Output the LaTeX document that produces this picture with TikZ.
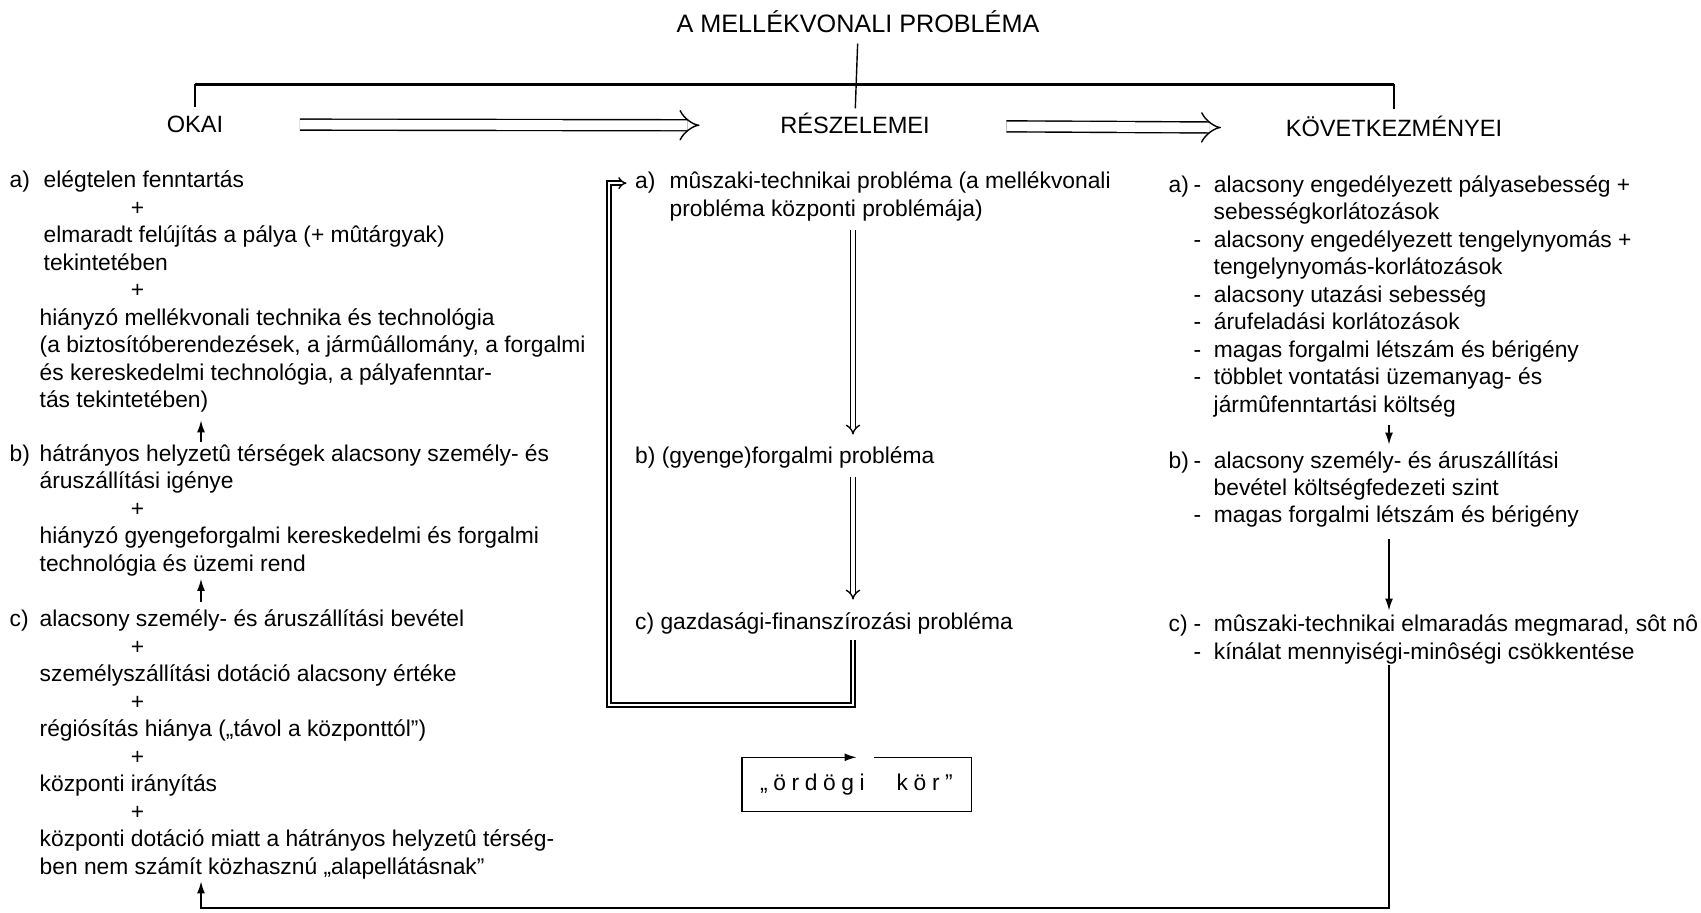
\documentclass[tikz,border=0pt]{standalone}
\usepackage{fontspec}
\setmainfont{Liberation Sans}
\usetikzlibrary{arrows.meta}

\begin{document}
\begin{tikzpicture}[x=0.5pt,y=-0.5pt,>={Latex[length=6pt,width=4pt]},line width=0.7pt,
        txt/.style={anchor=base west,inner sep=0pt,font=\fontsize{11.4}{13.7}\selectfont},
        pls/.style={txt,anchor=base},
        hd/.style={anchor=base,inner sep=0pt,text height=8.5pt,text depth=0pt,font=\fontsize{11.8}{14}\selectfont},
        dbl/.style={double,double distance=#1,-{Implies}},
        bar/.style={line width=1.8pt}]

        \useasboundingbox (0,0) rectangle (1701,913);

        % Define vertices
        \node[hd,font=\fontsize{12.6}{15}\selectfont] (ti) at (858,33) {A MELLÉKVONALI PROBLÉMA};
        \node[hd] (ok) at (195,133) {OKAI};
        \node[hd] (re) at (855,134) {RÉSZELEMEI};
        \node[hd] (kv) at (1394,137) {KÖVETKEZMÉNYEI};

        % left column: okai
        \node[txt] (la) at (9,188) {a)};
        \node[txt] (l1) at (43,188) {elégtelen fenntartás};
        \node[pls] (p1) at (137.5,215.5) {+};
        \node[txt] (l2) at (43,243) {elmaradt felújítás a pálya (+ mûtárgyak)};
        \node[txt] (l3) at (43,270.5) {tekintetében};
        \node[pls] (p2) at (137.5,298) {+};
        \node[txt] (l4) at (39,325.5) {hiányzó mellékvonali technika és technológia};
        \node[txt] (l5) at (39,353) {(a biztosítóberendezések, a jármûállomány, a forgalmi};
        \node[txt] (l6) at (39,380.5) {és kereskedelmi technológia, a pályafenntar-};
        \node[txt] (l7) at (39,408) {tás tekintetében)};
        \node[txt] (lb) at (9,461.5) {b)};
        \node[txt] (l8) at (39,461.5) {hátrányos helyzetû térségek alacsony személy- és};
        \node[txt] (l9) at (39,489) {áruszállítási igénye};
        \node[pls] (p3) at (137.5,516.5) {+};
        \node[txt] (l10) at (39,544) {hiányzó gyengeforgalmi kereskedelmi és forgalmi};
        \node[txt] (l11) at (39,571.5) {technológia és üzemi rend};
        \node[txt] (lc) at (9,626.5) {c)};
        \node[txt] (l12) at (39,626.5) {alacsony személy- és áruszállítási bevétel};
        \node[pls] (p4) at (137.5,654) {+};
        \node[txt] (l13) at (39,681.5) {személyszállítási dotáció alacsony értéke};
        \node[pls] (p5) at (137.5,709) {+};
        \node[txt] (l14) at (39,736.5) {régiósítás hiánya („távol a központtól")};
        \node[pls] (p6) at (137.5,764) {+};
        \node[txt] (l15) at (39,791.5) {központi irányítás};
        \node[pls] (p7) at (137.5,819) {+};
        \node[txt] (l16) at (39,846.5) {központi dotáció miatt a hátrányos helyzetû térség-};
        \node[txt] (l17) at (39,874) {ben nem számít közhasznú „alapellátásnak"};

        % middle column: reszelemei
        \node[txt] (ma) at (634.5,189) {a)};
        \node[txt] (m1) at (669,189) {mûszaki-technikai probléma (a mellékvonali};
        \node[txt] (m2) at (669,216.5) {probléma központi problémája)};
        \node[txt] (mb) at (634.5,464) {b) (gyenge)forgalmi probléma};
        \node[txt] (mc) at (634.5,630) {c) gazdasági-finanszírozási probléma};
        \node[txt,anchor=center,minimum width=114pt,minimum height=26.5pt] (kor) at (856.5,784.5)
            {„\hspace{2.8pt}ö\hspace{2.8pt}r\hspace{2.8pt}d\hspace{2.8pt}ö\hspace{2.8pt}g\hspace{2.8pt}i\hspace{16pt}k\hspace{2.8pt}ö\hspace{2.8pt}r\hspace{2.8pt}”};

        % right column: kovetkezmenyei
        \node[txt] (ra) at (1168,192.5) {a)};
        \node[txt] (r1) at (1193,192.5) {-~~alacsony engedélyezett pályasebesség +};
        \node[txt] (r2) at (1213,220) {sebességkorlátozások};
        \node[txt] (r3) at (1193,247.5) {-~~alacsony engedélyezett tengelynyomás +};
        \node[txt] (r4) at (1213,275) {tengelynyomás-korlátozások};
        \node[txt] (r5) at (1193,302.5) {-~~alacsony utazási sebesség};
        \node[txt] (r6) at (1193,330) {-~~árufeladási korlátozások};
        \node[txt] (r7) at (1193,357.5) {-~~magas forgalmi létszám és bérigény};
        \node[txt] (r8) at (1193,385) {-~~többlet vontatási üzemanyag- és};
        \node[txt] (r9) at (1213,412.5) {jármûfenntartási költség};
        \node[txt] (rb) at (1168,469) {b)};
        \node[txt] (r10) at (1193,469) {-~~alacsony személy- és áruszállítási};
        \node[txt] (r11) at (1213,495.5) {bevétel költségfedezeti szint};
        \node[txt] (r12) at (1193,522.5) {-~~magas forgalmi létszám és bérigény};
        \node[txt] (rc) at (1168,632) {c)};
        \node[txt] (r13) at (1193,632) {-~~mûszaki-technikai elmaradás megmarad, sôt nô};
        \node[txt] (r14) at (1193,660) {-~~kínálat mennyiségi-minôségi csökkentése};

        \coordinate (bar) at (0,84.5);
        \coordinate (mx) at (853,0);
        \coordinate (lx) at (201,0);
        \coordinate (rx) at (1389,0);
        \coordinate (bt) at (0,908);
        \coordinate (lp) at (609,705);

        % Draw edges
        \draw[shorten <=5pt,shorten >=4pt] (ti.south) -- (re.north);
        \draw[bar] (ok.north |- bar) -- (kv.north |- bar);
        \draw[shorten <=4pt] (ok.north) -- (ok.north |- bar);
        \draw[shorten <=5pt] (kv.north) -- (kv.north |- bar);
        \draw[dbl=4.8pt,shorten <=38pt,shorten >=40pt] (ok) -- (re);
        \draw[dbl=4.8pt,shorten <=38pt,shorten >=32pt] (re) -- (kv);

        \draw[dbl=1.8pt,shorten <=4pt,shorten >=6pt] (m2.south -| mx) -- (mb.north -| mx);
        \draw[dbl=1.8pt,shorten <=4pt,shorten >=6.5pt] (mb.south -| mx) -- (mc.north -| mx);
        \draw[dbl=1.3pt,shorten <=2.5pt,shorten >=4pt] (mc.south -| mx) |- (lp) |- (ma.west);
        \draw[->] ([xshift=8.5pt]kor.north) -- (kor.north east) -- (kor.south east)
            -- (kor.south west) -- (kor.north west) -- (kor.north);

        \draw[->,shorten <=1pt,shorten >=3.5pt] (l8.north -| lx) -- (l7.south -| lx);
        \draw[->,shorten <=3.5pt,shorten >=1pt] (l12.north -| lx) -- (l11.south -| lx);
        \draw[->,shorten <=3.5pt,shorten >=3.5pt] (r9.south -| rx) -- (r10.north -| rx);
        \draw[->,shorten <=5.5pt,shorten >=2pt] (r12.south -| rx) -- (r13.north -| rx);
        \draw[->,shorten >=1pt] (r14.south -| rx) -- (rx |- bt) -- (lx |- bt) -- (l17.south -| lx);

\end{tikzpicture}
\end{document}
